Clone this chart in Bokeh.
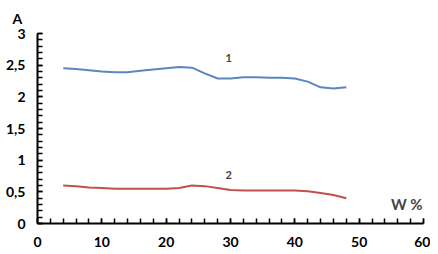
from bokeh.plotting import figure
from bokeh.models import Range1d, FixedTicker, Label
from bokeh.embed import file_html
from bokeh.resources import INLINE

# data
w = [4, 6, 8, 10, 12, 14, 16, 18, 20, 22, 24, 26, 28, 30, 32, 34, 36, 38, 40, 42, 44, 46, 48]
a1 = [2.45, 2.44, 2.42, 2.40, 2.39, 2.39, 2.41, 2.43, 2.45, 2.47, 2.46, 2.37, 2.29, 2.29, 2.31, 2.31,
      2.30, 2.30, 2.29, 2.24, 2.15, 2.13, 2.15]
a2 = [0.60, 0.59, 0.57, 0.56, 0.55, 0.55, 0.55, 0.55, 0.55, 0.56, 0.60, 0.59, 0.56, 0.53, 0.52, 0.52,
      0.52, 0.52, 0.52, 0.51, 0.48, 0.45, 0.40]
x_ticks = [0, 10, 20, 30, 40, 50, 60]
y_ticks = [0, 0.5, 1, 1.5, 2, 2.5, 3]
y_tick_labels = ["0", "0,5", "1", "1,5", "2", "2,5", "3"]
series_labels = ["1", "2"]

FONT = "Lato"

p = figure(width=430, height=250, output_backend="svg", toolbar_location=None,
           x_range=Range1d(0, 60), y_range=Range1d(0, 3),
           min_border_left=37, min_border_right=7, min_border_top=32, min_border_bottom=27)
p.outline_line_color = None
p.xgrid.grid_line_color = None
p.ygrid.grid_line_color = None

p.title.text = "A"
p.title.align = "left"
p.title.offset = -25
p.title.standoff = 14
p.title.text_font = FONT
p.title.text_font_style = "bold"
p.title.text_font_size = "14px"
p.title.text_color = "black"

p.line(w, a1, line_color="#5B87BE", line_width=2)
p.line(w, a2, line_color="#C0504D", line_width=2)

for ax in (p.xaxis[0], p.yaxis[0]):
    ax.axis_line_width = 2
    ax.axis_line_color = "black"
    ax.major_tick_line_color = "black"
    ax.minor_tick_line_color = "black"
    ax.major_tick_line_width = 1.5
    ax.minor_tick_line_width = 1.5
    ax.major_tick_in = 5
    ax.major_tick_out = 0
    ax.minor_tick_in = 5
    ax.minor_tick_out = 0
    ax.major_label_text_font = FONT
    ax.major_label_text_font_style = "bold"
    ax.major_label_text_font_size = "14px"
    ax.major_label_text_color = "black"

p.xaxis[0].ticker = FixedTicker(ticks=x_ticks, minor_ticks=list(range(0, 61, 2)))
p.yaxis[0].ticker = FixedTicker(ticks=y_ticks, minor_ticks=[i / 10 for i in range(31)])
p.yaxis[0].major_label_overrides = {t: s for t, s in zip(y_ticks, y_tick_labels)}
p.xaxis[0].major_label_standoff = 13
p.yaxis[0].major_label_standoff = 12

p.add_layout(Label(x=29.7, y=2.55, text=series_labels[0], text_font=FONT, text_font_style="bold",
                   text_font_size="11px", text_align="center", text_baseline="bottom"))
p.add_layout(Label(x=29.7, y=0.70, text=series_labels[1], text_font=FONT, text_font_style="bold",
                   text_font_size="11px", text_align="center", text_baseline="bottom"))
p.add_layout(Label(x=57.4, y=0.17, text="W %", text_font=FONT, text_font_style="bold",
                   text_font_size="15px", text_align="center", text_baseline="bottom"))

open("out.html", "w").write(file_html(p, INLINE))
